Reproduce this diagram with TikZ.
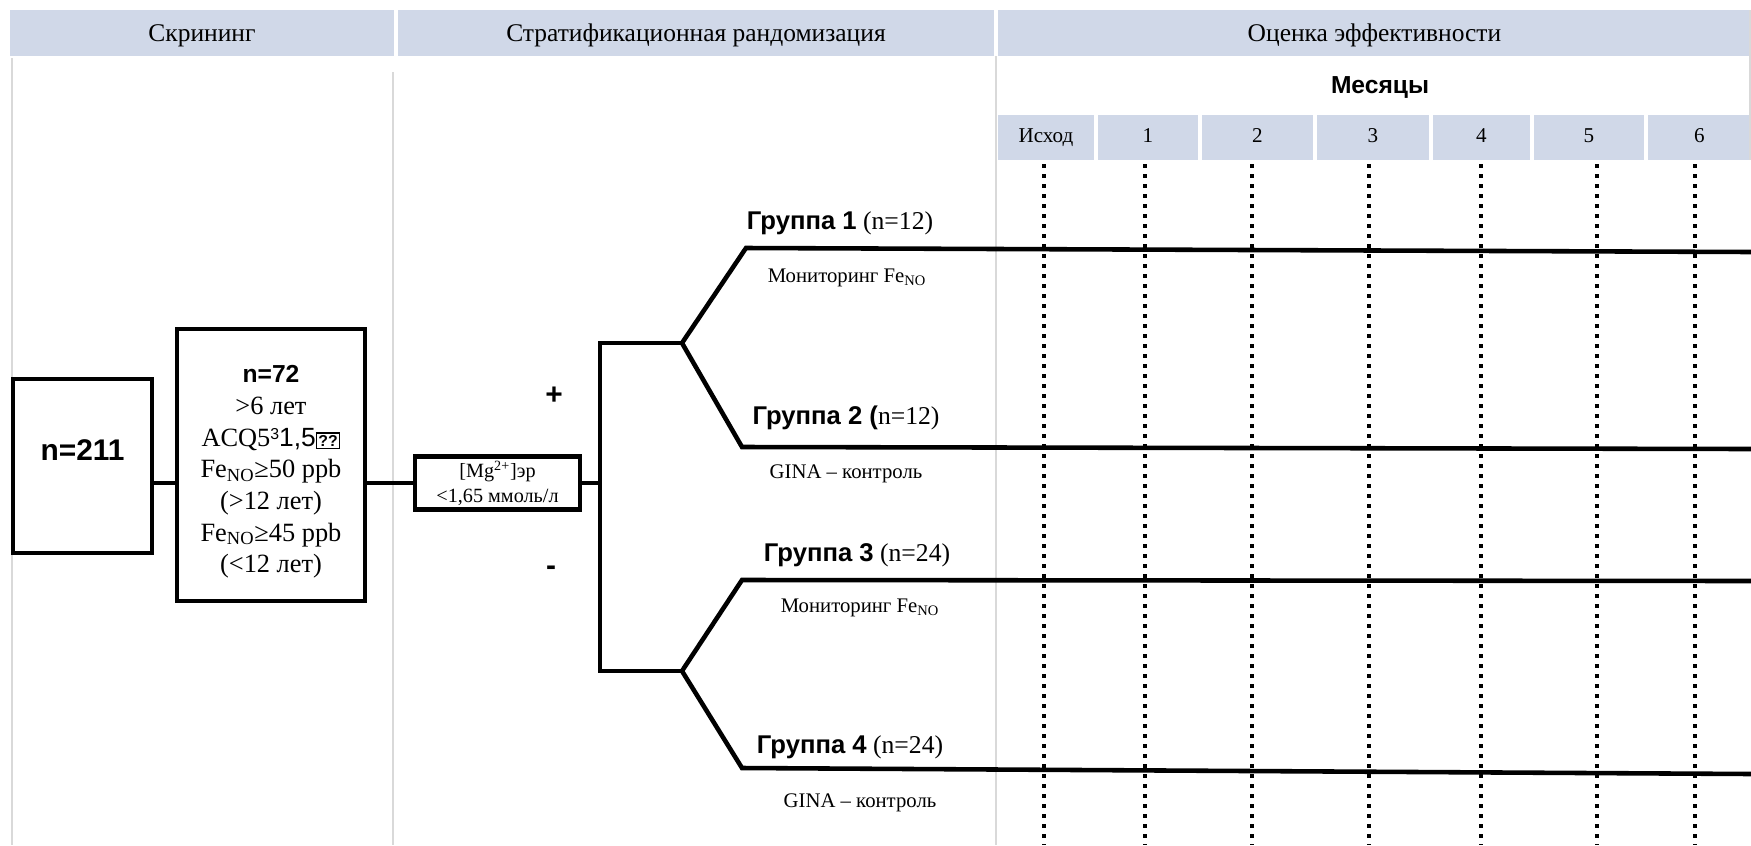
\documentclass[tikz,border=0pt]{standalone}
\usepackage{fontspec}
\setmainfont{Liberation Serif}
\setsansfont{Liberation Sans}
\usepackage{tikz}
\usetikzlibrary{positioning}
\definecolor{hdrblue}{RGB}{208,216,232}
\definecolor{gridgray}{RGB}{217,217,217}
\tikzset{minimum size=0pt, x=0.2mm, y=-0.2mm, font=\fontsize{12}{14}\selectfont}
\tikzstyle{hcell} = [fill=hdrblue, inner sep=0pt, minimum height=9.2mm, text depth=0pt, text centered, font=\fontsize{14.5}{14.5}\selectfont]
\tikzstyle{mcell} = [fill=hdrblue, inner sep=0pt, minimum height=9mm, text height=1.5ex, text depth=0.3ex, text centered, font=\fontsize{12}{12}\selectfont]
\tikzstyle{block} = [draw, fill=white, rectangle, line width=2.5pt, inner sep=0pt, text centered, align=center]
\tikzstyle{branch} = [line width=2.6pt, line join=miter]
\tikzstyle{gridline} = [draw=gridgray, line width=0.5mm]
\tikzstyle{visit} = [line width=0.75mm, dash pattern=on 0.8mm off 1.2mm]
\tikzstyle{grouplabel} = [inner sep=0pt, font=\fontsize{14.6}{14.6}\selectfont]
\tikzstyle{arm} = [inner sep=0pt, font=\fontsize{11.8}{11.8}\selectfont]
\tikzstyle{sign} = [inner sep=0pt, font=\fontsize{17}{17}\selectfont\sffamily\bfseries]
\newcommand{\feno}{Fe\textsubscript{NO}}
\newcommand{\tofu}{{\fboxsep=0.8pt\fboxrule=0.7pt\fbox{\fontsize{9}{9}\selectfont\sffamily\bfseries ??}}}
\newcommand{\grp}[1]{{\sffamily\bfseries #1}}

\begin{document}
\begin{tikzpicture}
	\useasboundingbox (0,0) rectangle (1751,845);

	\node [hcell, minimum width=76.8mm] (hdr_screen) at (202,33) {Скрининг};
	\node [hcell, minimum width=119.2mm] (hdr_strat) at (696,33) {Стратификационная рандомизация};
	\node [hcell, minimum width=150.6mm] (hdr_eval) at (1374.5,33) {Оценка эффективности};

	\node [font=\fontsize{14}{14}\selectfont\sffamily\bfseries] (months) at (1380,87) {Месяцы};
	\foreach \l/\r/\t [count=\i from 0] in {998/1094/Исход, 1098/1198/1, 1202/1313/2, 1317/1429/3, 1433/1530/4, 1534/1644/5, 1648/1751/6}
		\node [mcell, minimum width={(\r-\l)*0.2mm}] (m\i) at ({(\l+\r)/2},137.5) {\t};

	\draw [gridline] (12,58) -- (12,845);
	\draw [gridline] (393,72) -- (393,845);
	\draw [gridline] (996,56) -- (996,845);
	\draw [gridline] (1750,10) -- (1750,160);

	\foreach \x in {1044,1145,1252,1369,1481,1597,1695}
		\draw [visit] (\x,164) -- (\x,845);

	\node [block, minimum width=27.8mm, minimum height=34.8mm] (box_all) at (82.5,466) {};
	\node [font=\fontsize{17}{17}\selectfont\sffamily\bfseries] (n_all) at ([yshift=3.2mm]box_all.center) {n=211};
	\node [block, minimum width=37.6mm, minimum height=54.4mm] (box_incl) at (271,465) {};
	\node [align=center, font=\fontsize{15}{18}\selectfont] (txt_incl) at ([yshift=-1.4mm]box_incl.center)
		{{\sffamily\bfseries\fontsize{14}{18}\selectfont n=72}\\>6 лет\\ACQ5\raisebox{0.55ex}{\fontsize{9}{9}\selectfont\sffamily 3}{\sffamily 1,5}\tofu\\\feno≥50 ppb\\(>12 лет)\\\feno≥45 ppb\\(<12 лет)};
	\node [block, minimum width=33mm, minimum height=10.6mm, font=\fontsize{11.5}{14}\selectfont] (box_mg) at (497.5,483)
		{[Mg\textsuperscript{2+}]эр\\<1,65 ммоль/л};

	\coordinate (split_top) at (600,343);
	\coordinate (split_bot) at (600,671);
	\coordinate (fork_a) at (682,343);
	\coordinate (fork_b) at (682,671);
	\coordinate (grp1_s) at (746,248);
	\coordinate (grp1_e) at (1751,252);
	\coordinate (grp2_s) at (742,447);
	\coordinate (grp2_e) at (1751,449);
	\coordinate (grp3_s) at (742,580);
	\coordinate (grp3_e) at (1751,581);
	\coordinate (grp4_s) at (742,768);
	\coordinate (grp4_e) at (1751,774);

	\draw [branch] (box_all.east |- box_mg) -- (box_incl.west |- box_mg);
	\draw [branch] (box_incl.east |- box_mg) -- (box_mg.west);
	\draw [branch] (box_mg.east) -- (box_mg -| split_top);
	\draw [branch] (fork_a) -- (split_top) -- (split_bot) -- (fork_b);
	\draw [branch] (grp1_e) -- (grp1_s) -- (fork_a) -- (grp2_s) -- (grp2_e);
	\draw [branch] (grp3_e) -- (grp3_s) -- (fork_b) -- (grp4_s) -- (grp4_e);

	\node [sign] (plus) at (554,396) {+};
	\node [sign] (minus) at (551,571) {-};

	\node [grouplabel] (lbl_g1) at (840,223) {\grp{Группа 1} (n=12)};
	\node [arm] (arm_g1) at (847,278) {Мониторинг \feno};
	\node [grouplabel] (lbl_g2) at (846,418) {\grp{Группа 2 (}n=12)};
	\node [arm] (arm_g2) at (846,474) {GINA – контроль};
	\node [grouplabel] (lbl_g3) at (857,555) {\grp{Группа 3} (n=24)};
	\node [arm] (arm_g3) at (860,608) {Мониторинг \feno};
	\node [grouplabel] (lbl_g4) at (850,747) {\grp{Группа 4} (n=24)};
	\node [arm] (arm_g4) at (860,803) {GINA – контроль};
\end{tikzpicture}
\end{document}
